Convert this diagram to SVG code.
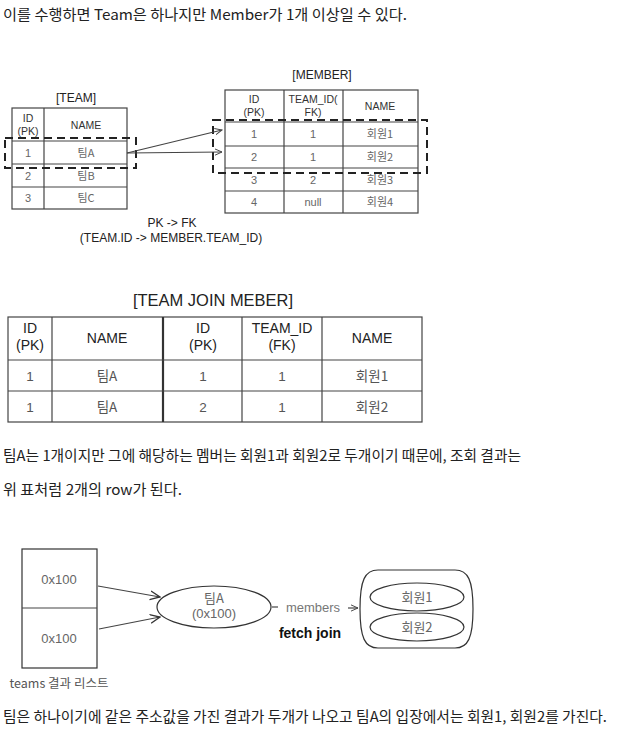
<svg xmlns="http://www.w3.org/2000/svg" width="622" height="743" viewBox="0 0 622 743">
<style>
text{font-family:"Noto Sans CJK KR","Noto Sans",sans-serif;}
.lat{font-family:"Liberation Sans","Noto Sans CJK KR",sans-serif;}
.body{font-size:14.5px;fill:#222;}
.t{font-size:10.5px;fill:#333;text-anchor:middle;}
.c{font-size:11px;fill:#666;text-anchor:middle;}
.ttl{font-size:12px;fill:#222;text-anchor:middle;}
.jh{font-size:14px;fill:#222;text-anchor:middle;}
.jc{font-size:13.5px;fill:#555;text-anchor:middle;}
.ln{stroke:#444;stroke-width:1.2;fill:none;}
.dash{stroke:#222;stroke-width:2;fill:none;stroke-dasharray:8 5;}
.conn{stroke:#444;stroke-width:1.2;fill:none;}
.sh{stroke:#333;stroke-width:1.2;fill:#fff;}
.g{font-size:13px;fill:#666;text-anchor:middle;}
</style>
<defs>
<marker id="open" viewBox="0 0 10 10" refX="9" refY="5" markerWidth="8" markerHeight="8" orient="auto" markerUnits="userSpaceOnUse">
<path d="M0,1 L9,5 L0,9" fill="none" stroke="#444" stroke-width="1.2"/>
</marker>
<marker id="open2" viewBox="0 0 10 10" refX="9" refY="5" markerWidth="11" markerHeight="11" orient="auto" markerUnits="userSpaceOnUse">
<path d="M0,1 L9,5 L0,9" fill="none" stroke="#333" stroke-width="1.2"/>
</marker>
</defs>
<rect width="622" height="743" fill="#fff"/>

<text class="body" x="3" y="20" textLength="404" lengthAdjust="spacingAndGlyphs">이를 수행하면 Team은 하나지만 Member가 1개 이상일 수 있다.</text>

<g id="team">
<text class="ttl lat" x="76" y="102">[TEAM]</text>
<rect class="ln" x="12" y="108" width="115" height="101"/>
<line class="ln" x1="44" y1="108" x2="44" y2="209"/>
<line class="ln" x1="12" y1="141" x2="127" y2="141"/>
<line class="ln" x1="12" y1="164" x2="127" y2="164"/>
<line class="ln" x1="12" y1="187" x2="127" y2="187"/>
<text class="t lat" x="28" y="122">ID</text>
<text class="t lat" x="28" y="135">(PK)</text>
<text class="t lat" x="86" y="129">NAME</text>
<text class="c lat" x="28" y="157">1</text><text class="c" x="86" y="157">팀A</text>
<text class="c lat" x="28" y="180">2</text><text class="c" x="86" y="180">팀B</text>
<text class="c lat" x="28" y="202">3</text><text class="c" x="86" y="202">팀C</text>
<rect class="dash" x="5" y="138" width="131" height="30"/>
</g>

<g id="member">
<text class="ttl lat" x="322" y="79">[MEMBER]</text>
<rect class="ln" x="225" y="90" width="193" height="123"/>
<line class="ln" x1="284" y1="90" x2="284" y2="213"/>
<line class="ln" x1="343" y1="90" x2="343" y2="213"/>
<line class="ln" x1="225" y1="122" x2="418" y2="122"/>
<line class="ln" x1="225" y1="146" x2="418" y2="146"/>
<line class="ln" x1="225" y1="168" x2="418" y2="168"/>
<line class="ln" x1="225" y1="191" x2="418" y2="191"/>
<text class="t lat" x="254" y="103">ID</text>
<text class="t lat" x="254" y="116">(PK)</text>
<text class="t lat" x="313" y="103">TEAM_ID(</text>
<text class="t lat" x="313" y="116">FK)</text>
<text class="t lat" x="380" y="110">NAME</text>
<text class="c lat" x="254" y="138">1</text><text class="c lat" x="313" y="138">1</text><text class="c" x="380" y="138">회원1</text>
<text class="c lat" x="254" y="161">2</text><text class="c lat" x="313" y="161">1</text><text class="c" x="380" y="161">회원2</text>
<text class="c lat" x="254" y="184">3</text><text class="c lat" x="313" y="184">2</text><text class="c" x="380" y="184">회원3</text>
<text class="c lat" x="254" y="206">4</text><text class="c lat" x="313" y="206">null</text><text class="c" x="380" y="206">회원4</text>
<rect class="dash" x="213" y="120" width="214" height="53"/>
</g>

<g id="connectors">
<line class="conn" x1="127" y1="153" x2="222" y2="130" marker-end="url(#open)"/>
<line class="conn" x1="127" y1="153" x2="222" y2="152" marker-end="url(#open)"/>
<line class="conn" x1="98" y1="586" x2="160" y2="597" marker-end="url(#open2)"/>
<line class="conn" x1="99" y1="629" x2="160" y2="617" marker-end="url(#open2)"/>
<line class="conn" x1="272" y1="607" x2="278" y2="607"/>
<line class="conn" x1="348" y1="608" x2="358" y2="608" marker-end="url(#open)"/>
</g>

<g id="fk-label">
<text class="ttl lat" x="172" y="227">PK -&gt; FK</text>
<text class="ttl lat" x="171" y="242">(TEAM.ID -&gt; MEMBER.TEAM_ID)</text>
</g>

<g id="join">
<text class="lat" x="213" y="306" style="font-size:16px;fill:#222;text-anchor:middle" textLength="160" lengthAdjust="spacingAndGlyphs">[TEAM JOIN MEBER]</text>
<rect class="ln" x="8" y="317" width="414" height="105"/>
<line class="ln" x1="52" y1="317" x2="52" y2="422"/>
<line x1="163" y1="317" x2="163" y2="422" stroke="#333" stroke-width="2.2"/>
<line class="ln" x1="242" y1="317" x2="242" y2="422"/>
<line class="ln" x1="322" y1="317" x2="322" y2="422"/>
<line class="ln" x1="8" y1="360" x2="422" y2="360"/>
<line class="ln" x1="8" y1="391" x2="422" y2="391"/>
<text class="jh lat" x="30" y="333">ID</text>
<text class="jh lat" x="30" y="350">(PK)</text>
<text class="jh lat" x="107" y="343">NAME</text>
<text class="jh lat" x="203" y="333">ID</text>
<text class="jh lat" x="203" y="350">(PK)</text>
<text class="jh lat" x="282" y="333">TEAM_ID</text>
<text class="jh lat" x="282" y="350">(FK)</text>
<text class="jh lat" x="372" y="343">NAME</text>
<text class="jc lat" x="30" y="381">1</text><text class="jc" x="107" y="381">팀A</text><text class="jc lat" x="203" y="381">1</text><text class="jc lat" x="282" y="381">1</text><text class="jc" x="372" y="381">회원1</text>
<text class="jc lat" x="30" y="412">1</text><text class="jc" x="107" y="412">팀A</text><text class="jc lat" x="203" y="412">2</text><text class="jc lat" x="282" y="412">1</text><text class="jc" x="372" y="412">회원2</text>
</g>

<text class="body" x="3" y="461" textLength="518" lengthAdjust="spacingAndGlyphs">팀A는 1개이지만 그에 해당하는 멤버는 회원1과 회원2로 두개이기 때문에, 조회 결과는</text>
<text class="body" x="3" y="495" textLength="179" lengthAdjust="spacingAndGlyphs">위 표처럼 2개의 row가 된다.</text>

<g id="teams-list">
<rect class="sh" x="22" y="549" width="75" height="119"/>
<line class="ln" x1="22" y1="608" x2="97" y2="608"/>
<text class="g lat" x="59" y="584">0x100</text>
<text class="g lat" x="59" y="643">0x100</text>
<text x="59" y="688" style="font-size:12.5px;fill:#555;text-anchor:middle">teams 결과 리스트</text>
</g>

<g id="teamA">
<ellipse class="sh" cx="214" cy="607" rx="57" ry="21"/>
<text class="g" x="214" y="603">팀A</text>
<text class="g lat" x="214" y="618">(0x100)</text>
</g>

<g id="members-label">
<text class="lat" x="313" y="612" style="font-size:13px;fill:#777;text-anchor:middle">members</text>
<text class="lat" x="310" y="638" style="font-size:14px;fill:#111;text-anchor:middle;font-weight:bold">fetch join</text>
</g>

<g id="member-collection">
<path class="sh" d="M378,570 L455,570 C468,570 473,580 473,609 C473,638 468,648 455,648 L378,648 C365,648 360,638 360,609 C360,580 365,570 378,570 Z"/>
<ellipse class="sh" cx="417" cy="597" rx="47" ry="14"/>
<text class="g" x="417" y="602">회원1</text>
<ellipse class="sh" cx="417" cy="627" rx="47" ry="14"/>
<text class="g" x="417" y="632">회원2</text>
</g>

<text class="body" x="3" y="722" textLength="604" lengthAdjust="spacingAndGlyphs">팀은 하나이기에 같은 주소값을 가진 결과가 두개가 나오고 팀A의 입장에서는 회원1, 회원2를 가진다.</text>
</svg>
